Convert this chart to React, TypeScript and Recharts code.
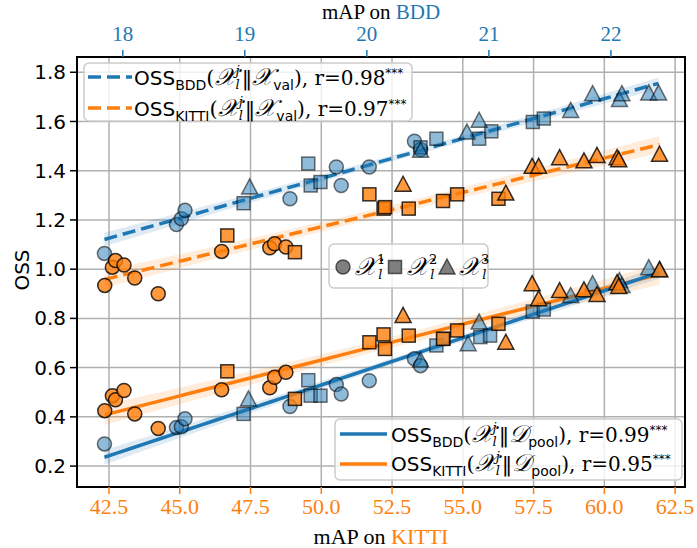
import React from "react";
import { Area, CartesianGrid, ComposedChart, Customized, Line, ReferenceArea, Scatter, XAxis, YAxis } from "recharts";

const BLUE = "#1f77b4";
const ORANGE = "#ff7f0e";
const SANS = "'DejaVu Sans', sans-serif";
const SERIF = "'Liberation Serif', 'DejaVu Serif', serif";
const DSERIF = "'DejaVu Serif', serif";

// x = mAP on BDD (top axis), y = OSS
const bddValCircles: [number, number][] = [[17.85, 1.064], [18.44, 1.181], [18.48, 1.205], [18.51, 1.239], [19.37, 1.286], [19.75, 1.415], [19.79, 1.34], [20.02, 1.415], [20.39, 1.52], [20.44, 1.486]];
const bddValSquares: [number, number][] = [[18.99, 1.268], [19.52, 1.429], [19.54, 1.34], [19.62, 1.354], [20.44, 1.495], [20.57, 1.53], [20.92, 1.53], [21.02, 1.56], [21.36, 1.598], [21.45, 1.612]];
const bddValTriangles: [number, number][] = [[19.04, 1.334], [20.44, 1.483], [20.82, 1.557], [20.92, 1.605], [21.67, 1.645], [21.85, 1.713], [22.07, 1.689], [22.09, 1.713], [22.31, 1.716], [22.39, 1.716]];
const bddPoolCircles: [number, number][] = [[17.85, 0.29], [18.44, 0.357], [18.48, 0.36], [18.51, 0.392], [19.37, 0.442], [19.75, 0.531], [19.79, 0.493], [20.02, 0.547], [20.39, 0.636], [20.44, 0.608]];
const bddPoolSquares: [number, number][] = [[18.99, 0.412], [19.52, 0.549], [19.54, 0.486], [19.62, 0.486], [20.57, 0.69], [20.63, 0.717], [20.93, 0.724], [21.01, 0.73], [21.36, 0.828], [21.45, 0.836]];
const bddPoolTriangles: [number, number][] = [[19.03, 0.473], [20.44, 0.631], [20.83, 0.697], [20.92, 0.785], [21.67, 0.893], [21.85, 0.941], [22.07, 0.954], [22.09, 0.934], [22.31, 1.006], [22.4, 0.998]];

// x = mAP on KITTI (bottom axis), y = OSS
const kittiValCircles: [number, number][] = [[42.35, 0.934], [42.62, 1.008], [42.73, 1.035], [43.03, 1.017], [43.41, 0.964], [44.24, 0.9], [46.48, 1.072], [48.18, 1.087], [48.35, 1.103], [48.75, 1.09]];
const kittiValSquares: [number, number][] = [[46.68, 1.137], [49.07, 1.069], [51.7, 1.304], [52.2, 1.246], [52.25, 1.252], [53.09, 1.246], [54.3, 1.277], [54.8, 1.304], [56.26, 1.286]];
const kittiValTriangles: [number, number][] = [[52.89, 1.345], [56.52, 1.309], [57.45, 1.418], [57.68, 1.418], [58.42, 1.453], [59.28, 1.44], [59.74, 1.462], [60.45, 1.453], [60.51, 1.445], [61.95, 1.467]];
const kittiPoolCircles: [number, number][] = [[42.35, 0.425], [42.62, 0.486], [42.73, 0.469], [43.03, 0.507], [43.41, 0.412], [44.24, 0.353], [46.48, 0.51], [48.18, 0.518], [48.35, 0.561], [48.75, 0.581]];
const kittiPoolSquares: [number, number][] = [[46.68, 0.585], [49.07, 0.473], [51.7, 0.703], [52.2, 0.735], [52.25, 0.676], [53.09, 0.73], [54.3, 0.717], [54.8, 0.751], [56.26, 0.778]];
const kittiPoolTriangles: [number, number][] = [[52.89, 0.812], [56.52, 0.703], [57.45, 0.941], [57.68, 0.88], [58.42, 0.913], [59.28, 0.916], [59.74, 0.897], [60.45, 0.945], [60.51, 0.93], [61.95, 0.998]];

const kittiTicks = [42.5, 45, 47.5, 50, 52.5, 55, 57.5, 60, 62.5];
const bddTicks = [18, 19, 20, 21, 22];
const ossTicks = [0.2, 0.4, 0.6, 0.8, 1.0, 1.2, 1.4, 1.6, 1.8];

const toPts = (arr: [number, number][]) => arr.map(([x, y]) => ({ x, y }));

// least squares fit + 95% CI band, like seaborn regplot
function regBand(groups: [number, number][][], steps = 40) {
  const pts = groups.flat();
  const n = pts.length;
  const mx = pts.reduce((s, p) => s + p[0], 0) / n;
  const my = pts.reduce((s, p) => s + p[1], 0) / n;
  let sxx = 0, sxy = 0;
  pts.forEach(([x, y]) => { sxx += (x - mx) ** 2; sxy += (x - mx) * (y - my); });
  const b = sxy / sxx;
  const a = my - b * mx;
  const se = Math.sqrt(pts.reduce((s, [x, y]) => s + (y - (a + b * x)) ** 2, 0) / (n - 2));
  const x0 = Math.min(...pts.map((p) => p[0]));
  const x1 = Math.max(...pts.map((p) => p[0]));
  const out = [];
  for (let i = 0; i <= steps; i++) {
    const x = x0 + ((x1 - x0) * i) / steps;
    const yh = a + b * x;
    const h = 2.05 * se * Math.sqrt(1 / n + (x - mx) ** 2 / sxx);
    out.push({ x, y: yh, range: [yh - h, yh + h] });
  }
  return out;
}

const bddValFit = regBand([bddValCircles, bddValSquares, bddValTriangles]);
const bddPoolFit = regBand([bddPoolCircles, bddPoolSquares, bddPoolTriangles]);
const kittiValFit = regBand([kittiValCircles, kittiValSquares, kittiValTriangles]);
const kittiPoolFit = regBand([kittiPoolCircles, kittiPoolSquares, kittiPoolTriangles]);

type Kind = "circle" | "square" | "triangle";

function Mark({ cx, cy, kind, fill, fo, so }: any) {
  const common = { fill, fillOpacity: fo, stroke: "#000", strokeOpacity: so, strokeWidth: 1.5 };
  if (kind === "circle") return <circle cx={cx} cy={cy} r={7} {...common} />;
  if (kind === "square") return <rect x={cx - 6.5} y={cy - 6.5} width={13} height={13} {...common} />;
  return <path d={`M${cx},${cy - 8}L${cx - 8},${cy + 7}L${cx + 8},${cy + 7}Z`} {...common} />;
}

const shape = (kind: Kind, color: string) => (p: any) =>
  <Mark cx={p.cx} cy={p.cy} kind={kind} fill={color} fo={color === BLUE ? 0.5 : 0.8} so={color === BLUE ? 0.55 : 0.8} />;

function OssLabel({ x, y, sub, target, tsub, r }: any) {
  return (
    <text x={x} y={y} fontSize={20} fill="#000" fontFamily={DSERIF}>
      <tspan fontFamily={SANS}>OSS</tspan>
      <tspan fontFamily={SANS} fontSize={14} dy={5}>{sub}</tspan>
      <tspan dy={-5} fontSize={21}>(</tspan>
      <tspan fontSize={24} fontStyle="italic">𝒳</tspan>
      <tspan fontSize={13} fontStyle="italic" dy={-10}>j</tspan>
      <tspan fontSize={13} fontStyle="italic" dx={-4} dy={14}>l</tspan>
      <tspan dy={-4} fontSize={21} dx={2}>‖</tspan>
      <tspan fontSize={24} fontStyle="italic">{target}</tspan>
      <tspan fontFamily={SANS} fontSize={14} dy={5}>{tsub}</tspan>
      <tspan dy={-5}>), r={r}</tspan>
      <tspan fontSize={12} dy={-8} fontFamily={SANS}>***</tspan>
    </text>
  );
}

function Overlay() {
  return (
    <g>
      <text x={381} y={19} textAnchor="middle" fontFamily={SERIF} fontSize={21}>
        mAP on <tspan fill={BLUE}>BDD</tspan>
      </text>
      <text x={381} y={544} textAnchor="middle" fontFamily={SERIF} fontSize={22}>
        mAP on <tspan fill={ORANGE}>KITTI</tspan>
      </text>
      <text x={29} y={270} textAnchor="middle" fontFamily={SANS} fontSize={20} transform="rotate(-90 29 270)">OSS</text>

      {/* legend: val lines */}
      <rect x={84} y={63} width={328} height={58} rx={5} fill="#fff" fillOpacity={0.8} stroke="#ccc" strokeWidth={1.5} />
      <line x1={88} x2={132} y1={77} y2={77} stroke={BLUE} strokeWidth={3.5} strokeDasharray="13 6" />
      <line x1={88} x2={132} y1={108} y2={108} stroke={ORANGE} strokeWidth={3.5} strokeDasharray="13 6" />
      <OssLabel x={134} y={85} sub="BDD" target="𝒳" tsub="val" r="0.98" />
      <OssLabel x={134} y={116} sub="KITTI" target="𝒳" tsub="val" r="0.97" />

      {/* legend: subsets */}
      <rect x={329} y={244} width={159} height={44} rx={5} fill="#fff" fillOpacity={0.8} stroke="#ccc" strokeWidth={1.5} />
      {(["circle", "square", "triangle"] as Kind[]).map((k, i) => (
        <g key={k}>
          <Mark cx={343 + i * 52} cy={267} kind={k} fill="#7f7f7f" fo={1} so={0.6} />
          <text x={355 + i * 52} y={275} fontFamily={DSERIF} fontSize={25} fontStyle="italic">
            𝒳<tspan fontSize={13} fontStyle="normal" dy={-11}>{i + 1}</tspan>
            <tspan fontSize={13} dx={-7} dy={15}>l</tspan>
          </text>
        </g>
      ))}

      {/* legend: pool lines */}
      <rect x={335} y={419} width={347} height={61} rx={5} fill="#fff" fillOpacity={0.8} stroke="#ccc" strokeWidth={1.5} />
      <line x1={340} x2={387} y1={434} y2={434} stroke={BLUE} strokeWidth={3.5} />
      <line x1={340} x2={387} y1={464} y2={464} stroke={ORANGE} strokeWidth={3.5} />
      <OssLabel x={391} y={442} sub="BDD" target="𝒟" tsub="pool" r="0.99" />
      <OssLabel x={391} y={471} sub="KITTI" target="𝒟" tsub="pool" r="0.95" />
    </g>
  );
}

export default function App() {
  return (
    <div style={{ position: "absolute", left: 0, top: 0 }}>
      <ComposedChart width={697} height={548} margin={{ top: 7, right: 12, bottom: 6, left: 7 }}>
        <XAxis xAxisId="kitti" orientation="bottom" type="number" dataKey="x" domain={[41.37, 62.85]} allowDataOverflow
          ticks={kittiTicks} tickFormatter={(v) => v.toFixed(1)} height={55} axisLine={false} tickSize={7} tickMargin={4}
          tickLine={{ stroke: ORANGE, strokeWidth: 1.5 }} tick={{ fill: ORANGE, fontSize: 22, fontFamily: SERIF }} interval={0} />
        <XAxis xAxisId="bdd" orientation="top" type="number" dataKey="x" domain={[17.625, 22.607]} allowDataOverflow
          ticks={bddTicks} height={50} axisLine={false} tickSize={7} tickMargin={9}
          tickLine={{ stroke: BLUE, strokeWidth: 1.5 }} tick={{ fill: BLUE, fontSize: 21, fontFamily: SERIF }} interval={0} />
        <YAxis type="number" dataKey="y" domain={[0.115, 1.862]} allowDataOverflow ticks={ossTicks}
          tickFormatter={(v) => v.toFixed(1)} width={70} axisLine={false} tickSize={7} tickMargin={4}
          tickLine={{ stroke: "#000", strokeWidth: 1.5 }} tick={{ fill: "#000", fontSize: 20, fontFamily: SANS }} interval={0} />
        <CartesianGrid xAxisId="kitti" stroke="#b0b0b0" strokeWidth={1.5} />

        <Scatter xAxisId="bdd" data={toPts(bddValCircles)} shape={shape("circle", BLUE)} isAnimationActive={false} />
        <Scatter xAxisId="bdd" data={toPts(bddValSquares)} shape={shape("square", BLUE)} isAnimationActive={false} />
        <Scatter xAxisId="bdd" data={toPts(bddValTriangles)} shape={shape("triangle", BLUE)} isAnimationActive={false} />
        <Scatter xAxisId="kitti" data={toPts(kittiValCircles)} shape={shape("circle", ORANGE)} isAnimationActive={false} />
        <Scatter xAxisId="kitti" data={toPts(kittiValSquares)} shape={shape("square", ORANGE)} isAnimationActive={false} />
        <Scatter xAxisId="kitti" data={toPts(kittiValTriangles)} shape={shape("triangle", ORANGE)} isAnimationActive={false} />
        <Scatter xAxisId="bdd" data={toPts(bddPoolCircles)} shape={shape("circle", BLUE)} isAnimationActive={false} />
        <Scatter xAxisId="bdd" data={toPts(bddPoolSquares)} shape={shape("square", BLUE)} isAnimationActive={false} />
        <Scatter xAxisId="bdd" data={toPts(bddPoolTriangles)} shape={shape("triangle", BLUE)} isAnimationActive={false} />
        <Scatter xAxisId="kitti" data={toPts(kittiPoolCircles)} shape={shape("circle", ORANGE)} isAnimationActive={false} />
        <Scatter xAxisId="kitti" data={toPts(kittiPoolSquares)} shape={shape("square", ORANGE)} isAnimationActive={false} />
        <Scatter xAxisId="kitti" data={toPts(kittiPoolTriangles)} shape={shape("triangle", ORANGE)} isAnimationActive={false} />

        <Area xAxisId="bdd" data={bddValFit} dataKey="range" stroke="none" fill={BLUE} fillOpacity={0.15} isAnimationActive={false} />
        <Area xAxisId="kitti" data={kittiValFit} dataKey="range" stroke="none" fill={ORANGE} fillOpacity={0.15} isAnimationActive={false} />
        <Area xAxisId="kitti" data={kittiPoolFit} dataKey="range" stroke="none" fill={ORANGE} fillOpacity={0.15} isAnimationActive={false} />
        <Area xAxisId="bdd" data={bddPoolFit} dataKey="range" stroke="none" fill={BLUE} fillOpacity={0.15} isAnimationActive={false} />

        <Line xAxisId="bdd" data={bddValFit} dataKey="y" stroke={BLUE} strokeWidth={3.5} strokeDasharray="13 6" dot={false} activeDot={false} isAnimationActive={false} />
        <Line xAxisId="kitti" data={kittiValFit} dataKey="y" stroke={ORANGE} strokeWidth={3.5} strokeDasharray="13 6" dot={false} activeDot={false} isAnimationActive={false} />
        <Line xAxisId="kitti" data={kittiPoolFit} dataKey="y" stroke={ORANGE} strokeWidth={3.5} dot={false} activeDot={false} isAnimationActive={false} />
        <Line xAxisId="bdd" data={bddPoolFit} dataKey="y" stroke={BLUE} strokeWidth={3.5} dot={false} activeDot={false} isAnimationActive={false} />

        <ReferenceArea xAxisId="kitti" x1={41.37} x2={62.85} y1={0.115} y2={1.862} fill="none" stroke="#000" strokeWidth={2} ifOverflow="visible" />
        <Customized component={<Overlay />} />
      </ComposedChart>
    </div>
  );
}
